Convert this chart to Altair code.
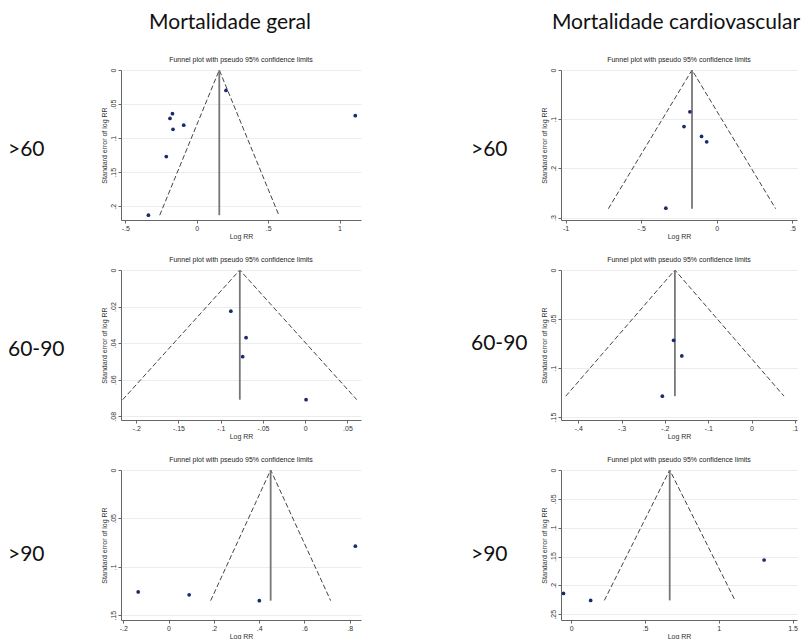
import altair as alt
import pandas as pd

col_titles = ["Mortalidade geral", "Mortalidade cardiovascular"]
row_labels = [">60", "60-90", ">90"]
panel_title = "Funnel plot with pseudo 95% confidence limits"
x_title = "Log RR"
y_title = "Standard error of log RR"

# Panel 1: Mortalidade geral, >60
p1_logrr = [0.205, -0.170, -0.187, -0.166, -0.091, -0.213, -0.338, 1.11]
p1_se = [0.030, 0.064, 0.071, 0.087, 0.081, 0.127, 0.213, 0.067]
p1_funnel = {"pooled": 0.158, "se_max": 0.213, "left": -0.259, "right": 0.575}
p1_xdom = [-0.53, 1.15]
p1_ydom = [0, 0.22]
p1_xticks = [-0.5, 0, 0.5, 1]
p1_yticks = [0, 0.05, 0.1, 0.15, 0.2]

# Panel 2: Mortalidade cardiovascular, >60
p2_logrr = [-0.178, -0.217, -0.101, -0.067, -0.337]
p2_se = [0.085, 0.115, 0.135, 0.146, 0.281]
p2_funnel = {"pooled": -0.164, "se_max": 0.282, "left": -0.717, "right": 0.389}
p2_xdom = [-1.03, 0.53]
p2_ydom = [0, 0.305]
p2_xticks = [-1, -0.5, 0, 0.5]
p2_yticks = [0, 0.1, 0.2, 0.3]

# Panel 3: Mortalidade geral, 60-90
p3_logrr = [-0.088, -0.070, -0.074, 0.001]
p3_se = [0.0225, 0.037, 0.0474, 0.0709]
p3_funnel = {"pooled": -0.0774, "se_max": 0.0709, "left": -0.216, "right": 0.061}
p3_xdom = [-0.218, 0.066]
p3_ydom = [0, 0.082]
p3_xticks = [-0.2, -0.15, -0.1, -0.05, 0, 0.05]
p3_yticks = [0, 0.02, 0.04, 0.06, 0.08]

# Panel 4: Mortalidade cardiovascular, 60-90
p4_logrr = [-0.180, -0.161, -0.206]
p4_se = [0.0717, 0.0876, 0.1287]
p4_funnel = {"pooled": -0.177, "se_max": 0.1287, "left": -0.429, "right": 0.075}
p4_xdom = [-0.44, 0.105]
p4_ydom = [0, 0.153]
p4_xticks = [-0.4, -0.3, -0.2, -0.1, 0, 0.1]
p4_yticks = [0, 0.05, 0.1, 0.15]

# Panel 5: Mortalidade geral, >90
p5_logrr = [-0.134, 0.091, 0.401, 0.825]
p5_se = [0.126, 0.129, 0.135, 0.0787]
p5_funnel = {"pooled": 0.451, "se_max": 0.135, "left": 0.186, "right": 0.716}
p5_xdom = [-0.21, 0.85]
p5_ydom = [0, 0.155]
p5_xticks = [-0.2, 0, 0.2, 0.4, 0.6, 0.8]
p5_yticks = [0, 0.05, 0.1, 0.15]

# Panel 6: Mortalidade cardiovascular, >90
p6_logrr = [-0.053, 0.131, 1.307]
p6_se = [0.214, 0.226, 0.156]
p6_funnel = {"pooled": 0.667, "se_max": 0.226, "left": 0.224, "right": 1.110}
p6_xdom = [-0.07, 1.53]
p6_ydom = [0, 0.26]
p6_xticks = [0, 0.5, 1, 1.5]
p6_yticks = [0, 0.05, 0.1, 0.15, 0.2, 0.25]

SMALL_FONT = "Liberation Sans"
BIG_FONT = "Lato"
BIG_SIZE = 21
LABEL_EXPR = "replace(toString(datum.value), '0.', '.')"
PW_L, PW_R, PH = 240, 236, 150


def panel(xs, ses, fun, xdom, ydom, xticks, yticks, w, h):
    pts = pd.DataFrame({"logrr": xs, "se": ses})
    fdf = pd.DataFrame({
        "logrr": [fun["left"], fun["pooled"], fun["right"]],
        "se": [fun["se_max"], 0.0, fun["se_max"]],
    })
    rdf = pd.DataFrame({"logrr": [fun["pooled"]], "se": [0.0], "se2": [fun["se_max"]]})
    xsc = alt.Scale(domain=xdom, nice=False, zero=False)
    ysc = alt.Scale(domain=ydom, nice=False, zero=False, reverse=True)
    xax = alt.Axis(values=xticks, title=x_title, labelExpr=LABEL_EXPR, grid=False,
                   labelFontSize=7, titleFontSize=7, labelFont=SMALL_FONT, titleFont=SMALL_FONT,
                   titleFontWeight="normal", labelColor="#333", titleColor="#333",
                   domainColor="#666", tickColor="#666", tickSize=3, labelPadding=1,
                   titlePadding=1, labelFlush=False)
    yax = alt.Axis(values=yticks, title=y_title, labelExpr=LABEL_EXPR, grid=True,
                   gridColor="#ececec", labelAngle=270, labelAlign="center",
                   labelBaseline="bottom", labelFontSize=7, titleFontSize=7,
                   labelFont=SMALL_FONT, titleFont=SMALL_FONT, titleFontWeight="normal",
                   labelColor="#333", titleColor="#333", domainColor="#666",
                   tickColor="#666", tickSize=3, labelPadding=2, titlePadding=2,
                   labelFlush=False)
    X = alt.X("logrr:Q", scale=xsc, axis=xax)
    Y = alt.Y("se:Q", scale=ysc, axis=yax)
    funnel = alt.Chart(fdf).mark_line(color="#444", strokeWidth=1, strokeDash=[5, 2.5]).encode(x=X, y=Y)
    rule = alt.Chart(rdf).mark_rule(color="#777", strokeWidth=1.8).encode(x=X, y=Y, y2="se2:Q")
    dots = alt.Chart(pts).mark_circle(size=14, color="#1c2a6b", opacity=1).encode(x=X, y=Y)
    return alt.layer(funnel, rule, dots).properties(
        width=w, height=h,
        title=alt.Title(panel_title, fontSize=7, font=SMALL_FONT, fontWeight="normal",
                        color="#222", offset=5, anchor="middle"),
    )


def label_chart(text, x, y, w, h):
    return alt.Chart(pd.DataFrame({"t": [text]})).mark_text(
        align="left", baseline="middle", fontSize=BIG_SIZE, font=BIG_FONT, color="#111"
    ).encode(text="t:N", x=alt.value(x), y=alt.value(y)).properties(width=w, height=h)


hdr_df = pd.DataFrame({"t": col_titles})
header = alt.layer(
    alt.Chart(hdr_df.iloc[[0]]).mark_text(fontSize=BIG_SIZE, font=BIG_FONT, color="#111", align="center",
                                          baseline="alphabetic").encode(text="t:N", x=alt.value(222), y=alt.value(15)),
    alt.Chart(hdr_df.iloc[[1]]).mark_text(fontSize=BIG_SIZE, font=BIG_FONT, color="#111", align="center",
                                          baseline="alphabetic").encode(text="t:N", x=alt.value(668), y=alt.value(15)),
).properties(width=790, height=25)

W1, W2 = 88, 171
rows = [
    alt.hconcat(label_chart(row_labels[0], 0, 80, W1, PH),
                panel(p1_logrr, p1_se, p1_funnel, p1_xdom, p1_ydom, p1_xticks, p1_yticks, PW_L, PH),
                label_chart(row_labels[0], 106, 80, W2, PH),
                panel(p2_logrr, p2_se, p2_funnel, p2_xdom, p2_ydom, p2_xticks, p2_yticks, PW_R, PH),
                spacing=4),
    alt.hconcat(label_chart(row_labels[1], 0, 80, W1, PH),
                panel(p3_logrr, p3_se, p3_funnel, p3_xdom, p3_ydom, p3_xticks, p3_yticks, PW_L, PH),
                label_chart(row_labels[1], 106, 74, W2, PH),
                panel(p4_logrr, p4_se, p4_funnel, p4_xdom, p4_ydom, p4_xticks, p4_yticks, PW_R, PH),
                spacing=4),
    alt.hconcat(label_chart(row_labels[2], 0, 85, W1, PH),
                panel(p5_logrr, p5_se, p5_funnel, p5_xdom, p5_ydom, p5_xticks, p5_yticks, PW_L, PH),
                label_chart(row_labels[2], 106, 85, W2, PH),
                panel(p6_logrr, p6_se, p6_funnel, p6_xdom, p6_ydom, p6_xticks, p6_yticks, PW_R, PH),
                spacing=4),
]

chart = alt.vconcat(header, *rows, spacing=17).properties(
    padding={"top": 4, "left": 0, "right": 0, "bottom": 0}, background="white"
).configure_view(strokeWidth=0)

chart.save("out.html", embed_options={"renderer": "svg", "actions": False})
